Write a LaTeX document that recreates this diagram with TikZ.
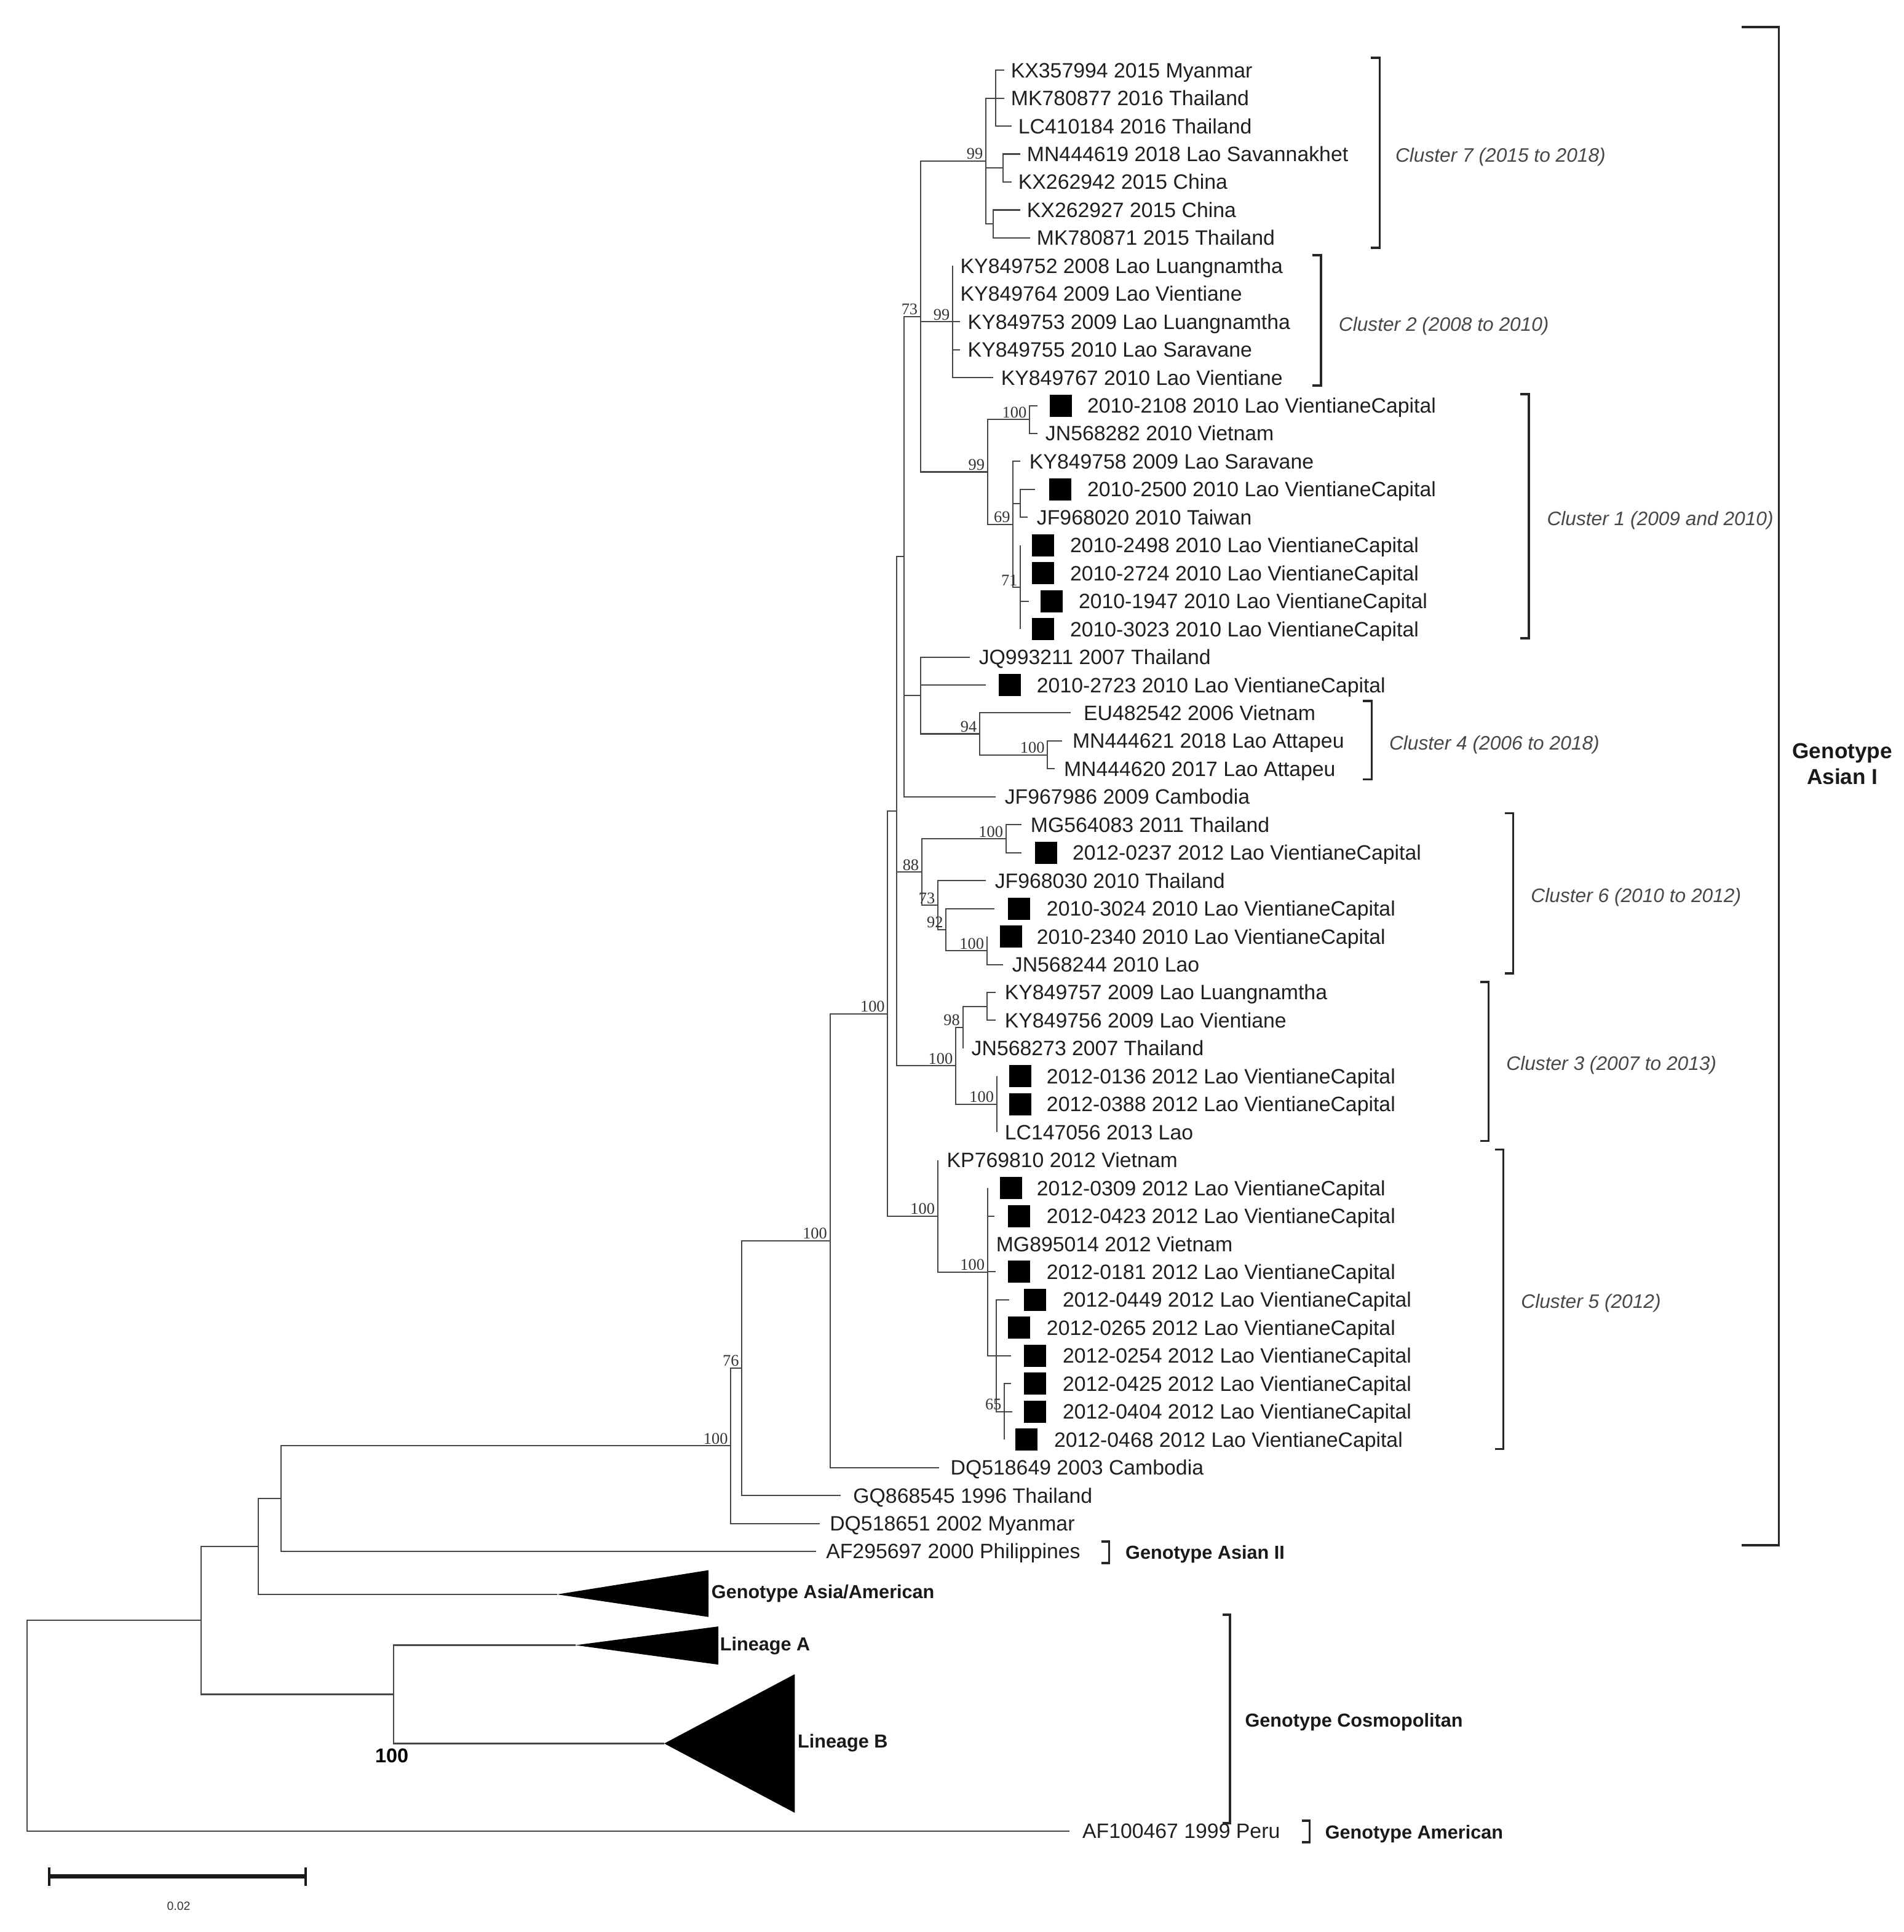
\documentclass[tikz,border=0pt]{standalone}
\usepackage{fontspec}
\setmainfont{Liberation Sans}
\newfontfamily\bsfont{Liberation Serif}
\newcommand\lf[5]{\coordinate (l#1) at (#2,#3); \node[lab] (t#1) at (#4,#3+6) {#5};}
\newcommand\bx[3]{\node[sq] (b#1) at (#2,#3) {};}
\newcommand\kids[2]{\foreach \c in {#2} {\draw[br] (#1) |- (\c);}}
\newcommand\bsl[4]{\node[bs] (bs#1) at (#2-2,#3-1) {#4};}
\newcommand\brak[4]{\draw[brk] (#1-#4,#2) -- (#1,#2) -- (#1,#3) -- (#1-#4,#3);}
\begin{document}
\begin{tikzpicture}[x=0.02cm,y=-0.02cm,
  br/.style={draw=black!72,line width=0.6pt},
  brk/.style={draw=black!85,line width=1pt},
  lab/.style={anchor=base west,inner sep=0pt,font=\fontsize{9.6}{11}\selectfont,text=black!88},
  sq/.style={fill=black,minimum size=0.36cm,inner sep=0pt},
  bs/.style={anchor=south east,inner sep=0pt,font=\bsfont\fontsize{7.5}{8}\selectfont,text=black!80},
  cl/.style={anchor=base west,inner sep=0pt,font=\itshape\fontsize{9}{10}\selectfont,text=black!72},
  gt/.style={anchor=base west,inner sep=0pt,font=\bfseries\fontsize{8.7}{10}\selectfont,text=black!90}]
\useasboundingbox (0,0) rectangle (1545,1568);
% ---------------- leaves ----------------
\lf{0}{815}{57.0}{820}{KX357994 2015 Myanmar}
\lf{1}{815}{79.7}{820}{MK780877 2016 Thailand}
\lf{2}{821}{102.4}{826}{LC410184 2016 Thailand}
\lf{3}{828}{125.0}{833}{MN444619 2018 Lao Savannakhet}
\lf{4}{821}{147.7}{826}{KX262942 2015 China}
\lf{5}{828}{170.4}{833}{KX262927 2015 China}
\lf{6}{836}{193.1}{841}{MK780871 2015 Thailand}
\lf{7}{773}{215.8}{779}{KY849752 2008 Lao Luangnamtha}
\lf{8}{773}{238.4}{779}{KY849764 2009 Lao Vientiane}
\lf{9}{779}{261.1}{785}{KY849753 2009 Lao Luangnamtha}
\lf{10}{779}{283.8}{785}{KY849755 2010 Lao Saravane}
\lf{11}{806}{306.5}{812}{KY849767 2010 Lao Vientiane}
\lf{12}{842}{329.2}{882}{2010-2108 2010 Lao VientianeCapital}
\lf{13}{842}{351.8}{848}{JN568282 2010 Vietnam}
\lf{14}{828}{374.5}{835}{KY849758 2009 Lao Saravane}
\lf{15}{840}{397.2}{882}{2010-2500 2010 Lao VientianeCapital}
\lf{16}{834}{419.9}{841}{JF968020 2010 Taiwan}
\lf{17}{828}{442.6}{868}{2010-2498 2010 Lao VientianeCapital}
\lf{18}{828}{465.2}{868}{2010-2724 2010 Lao VientianeCapital}
\lf{19}{835}{487.9}{875}{2010-1947 2010 Lao VientianeCapital}
\lf{20}{828}{510.6}{868}{2010-3023 2010 Lao VientianeCapital}
\lf{21}{787}{533.3}{794}{JQ993211 2007 Thailand}
\lf{22}{800}{556.0}{841}{2010-2723 2010 Lao VientianeCapital}
\lf{23}{869}{578.6}{879}{EU482542 2006 Vietnam}
\lf{24}{862}{601.3}{870}{MN444621 2018 Lao Attapeu}
\lf{25}{856}{624.0}{863}{MN444620 2017 Lao Attapeu}
\lf{26}{808}{646.7}{815}{JF967986 2009 Cambodia}
\lf{27}{829}{669.4}{836}{MG564083 2011 Thailand}
\lf{28}{829}{692.0}{870}{2012-0237 2012 Lao VientianeCapital}
\lf{29}{800}{714.7}{807}{JF968030 2010 Thailand}
\lf{30}{807}{737.4}{849}{2010-3024 2010 Lao VientianeCapital}
\lf{31}{800.8}{760.1}{841}{2010-2340 2010 Lao VientianeCapital}
\lf{32}{814}{782.8}{821}{JN568244 2010 Lao}
\lf{33}{808}{805.4}{815}{KY849757 2009 Lao Luangnamtha}
\lf{34}{808}{828.1}{815}{KY849756 2009 Lao Vientiane}
\lf{35}{781.3}{850.8}{788}{JN568273 2007 Thailand}
\lf{36}{808.8}{873.5}{849}{2012-0136 2012 Lao VientianeCapital}
\lf{37}{808.8}{896.2}{849}{2012-0388 2012 Lao VientianeCapital}
\lf{38}{808.8}{918.8}{815}{LC147056 2013 Lao}
\lf{39}{760.9}{941.5}{768}{KP769810 2012 Vietnam}
\lf{40}{801.3}{964.2}{841}{2012-0309 2012 Lao VientianeCapital}
\lf{41}{807}{986.9}{849}{2012-0423 2012 Lao VientianeCapital}
\lf{42}{801.3}{1009.6}{808}{MG895014 2012 Vietnam}
\lf{43}{808}{1032.2}{849}{2012-0181 2012 Lao VientianeCapital}
\lf{44}{819}{1054.9}{862}{2012-0449 2012 Lao VientianeCapital}
\lf{45}{808.3}{1077.6}{849}{2012-0265 2012 Lao VientianeCapital}
\lf{46}{820.5}{1100.3}{862}{2012-0254 2012 Lao VientianeCapital}
\lf{47}{820.5}{1123.0}{862}{2012-0425 2012 Lao VientianeCapital}
\lf{48}{821.5}{1145.6}{862}{2012-0404 2012 Lao VientianeCapital}
\lf{49}{815}{1168.3}{855}{2012-0468 2012 Lao VientianeCapital}
\lf{50}{762}{1191.0}{771}{DQ518649 2003 Cambodia}
\lf{51}{682}{1213.7}{692}{GQ868545 1996 Thailand}
\lf{52}{665}{1236.4}{673}{DQ518651 2002 Myanmar}
\lf{53}{662}{1259.0}{670}{AF295697 2000 Philippines}
\lf{54}{868}{1486}{878}{AF100467 1999 Peru}
% boxes
\bx{12}{861}{329.2} \bx{15}{860.5}{397.2}
\bx{17}{846.5}{442.6} \bx{18}{846.5}{465.2} \bx{19}{853.5}{487.9} \bx{20}{846.5}{510.6}
\bx{22}{819.5}{556.0} \bx{28}{849}{692.0} \bx{30}{827}{737.4} \bx{31}{820.5}{760.1}
\bx{36}{828}{873.5} \bx{37}{828}{896.2}
\bx{40}{820.5}{964.2} \bx{41}{827}{986.9} \bx{43}{827}{1032.2} \bx{44}{840}{1054.9}
\bx{45}{827}{1077.6} \bx{46}{840}{1100.3} \bx{47}{840}{1123.0} \bx{48}{840}{1145.6}
\bx{49}{833}{1168.3}
% ---------------- internal nodes ----------------
\coordinate (R) at (22,1400.5);
\coordinate (A) at (163,1315);
\coordinate (B) at (209.5,1255.1);
\coordinate (H) at (319.5,1375.1);
\coordinate (C) at (228,1216.2);
\coordinate (D) at (593,1173.4);
\coordinate (E) at (602,1110.3);
\coordinate (F) at (673.5,1006.9);
\coordinate (G) at (720.3,822.7);
\coordinate (H2) at (727.4,658.4);
\coordinate (I) at (733.6,451.8);
\coordinate (L) at (747,256.9);
\coordinate (C7) at (800,130.7);
\coordinate (a7) at (808,79.7);
\coordinate (b7) at (814,136.4);
\coordinate (c7) at (806,181.8);
\coordinate (C2) at (773,261.2);
\coordinate (C1) at (801.3,383);
\coordinate (c1a) at (835.4,340.5);
\coordinate (c1b) at (822,425.5);
\coordinate (s15) at (828,408.6);
\coordinate (N71) at (828,476.6);
\coordinate (JQ) at (747.2,564.5);
\coordinate (N94) at (795,595.6);
\coordinate (N100b) at (850,612.7);
\coordinate (N88) at (748,707.7);
\coordinate (N100c) at (816.3,680.7);
\coordinate (N73) at (761,734.6);
\coordinate (N92) at (767.7,754.4);
\coordinate (N100d) at (800.8,771.5);
\coordinate (N3) at (775.5,865);
\coordinate (N98) at (781.3,833.8);
\coordinate (sub98) at (800.8,816.8);
\coordinate (N100e) at (808.8,896.2);
\coordinate (K) at (760.9,986.9);
\coordinate (K2) at (801.3,1032.3);
\coordinate (K4) at (808.3,1100.3);
\coordinate (K5) at (815,1145.7);
% collapsed clades
\coordinate (tAA) at (452,1294);
\coordinate (tLA) at (467,1335.2);
\coordinate (tLB) at (539,1415);
\fill[black] (tAA) -- (575,1274.3) -- (575,1312.3) -- cycle;
\fill[black] (tLA) -- (583,1320) -- (583,1351) -- cycle;
\fill[black] (tLB) -- (645,1358.7) -- (645,1471.3) -- cycle;
% ---------------- branches ----------------
\kids{R}{A,l54}
\kids{A}{B,H}
\kids{B}{C,tAA}
\kids{H}{tLA,tLB}
\kids{C}{D,l53}
\kids{D}{E,l52}
\kids{E}{F,l51}
\kids{F}{G,l50}
\kids{G}{H2,K}
\kids{H2}{I,N88,N3}
\kids{I}{L,JQ,l26}
\kids{L}{C7,C2,C1}
\kids{C7}{a7,b7,c7}
\kids{a7}{l0,l1,l2}
\kids{b7}{l3,l4}
\kids{c7}{l5,l6}
\kids{C2}{l7,l8,l9,l10,l11}
\kids{C1}{c1a,c1b}
\kids{c1a}{l12,l13}
\kids{c1b}{l14,s15,N71}
\kids{s15}{l15,l16}
\kids{N71}{l17,l18,l19,l20}
\kids{JQ}{l21,l22,N94}
\kids{N94}{l23,N100b}
\kids{N100b}{l24,l25}
\kids{N88}{N100c,N73}
\kids{N100c}{l27,l28}
\kids{N73}{l29,N92}
\kids{N92}{l30,N100d}
\kids{N100d}{l31,l32}
\kids{N3}{N98,N100e}
\kids{N98}{sub98,l35}
\kids{sub98}{l33,l34}
\kids{N100e}{l36,l37,l38}
\kids{K}{l39,K2}
\kids{K2}{l40,l41,l42,l43,K4}
\kids{K4}{l44,l45,l46,K5}
\kids{K5}{l47,l48,l49}
% ---------------- bootstrap values ----------------
\bsl{C7}{800}{130.7}{99}
\bsl{L}{747}{256.9}{73}
\bsl{C2}{773}{261.2}{99}
\bsl{c1a}{835.4}{340.5}{100}
\bsl{C1}{801.3}{383}{99}
\bsl{c1b}{822}{425.5}{69}
\bsl{N71}{828}{476.6}{71}
\bsl{N94}{795}{595.6}{94}
\bsl{N100b}{850}{612.7}{100}
\bsl{N100c}{816.3}{680.7}{100}
\bsl{N88}{748}{707.7}{88}
\bsl{N73}{761}{734.6}{73}
\bsl{N92}{767.7}{754.4}{92}
\bsl{N100d}{800.8}{771.5}{100}
\bsl{G}{720.3}{822.7}{100}
\bsl{N98}{781.3}{833.8}{98}
\bsl{N3}{775.5}{865}{100}
\bsl{N100e}{808.8}{896.2}{100}
\bsl{K}{760.9}{986.9}{100}
\bsl{F}{673.5}{1006.9}{100}
\bsl{K2}{801.3}{1032.3}{100}
\bsl{E}{602}{1110.3}{76}
\bsl{K5}{815}{1145.7}{65}
\bsl{D}{593}{1173.4}{100}
\node[font=\bfseries\fontsize{9.2}{10}\selectfont,inner sep=0pt] (bsH) at (318,1425) {100};
% ---------------- clade labels ----------------
\node[gt] (gAA) at (577,1297.5) {Genotype Asia/American};
\node[gt] (gLA) at (584,1339.5) {Lineage A};
\node[gt] (gLB) at (647,1418.5) {Lineage B};
\node[gt] (gA2) at (913,1265.5) {Genotype Asian II};
\node[gt] (gCo) at (1010,1401.5) {Genotype Cosmopolitan};
\node[gt] (gAm) at (1075,1492.5) {Genotype American};
\node[font=\bfseries\fontsize{10}{12}\selectfont,align=center,inner sep=0pt,text=black!90] (gA1) at (1495,620) {Genotype\\Asian I};
\node[cl] (k7) at (1132,131.5) {Cluster 7 (2015 to 2018)};
\node[cl] (k2) at (1086,268.5) {Cluster 2 (2008 to 2010)};
\node[cl] (k1) at (1255,426.5) {Cluster 1 (2009 and 2010)};
\node[cl] (k4) at (1127,608.5) {Cluster 4 (2006 to 2018)};
\node[cl] (k6) at (1242,732.5) {Cluster 6 (2010 to 2012)};
\node[cl] (k3) at (1222,868.5) {Cluster 3 (2007 to 2013)};
\node[cl] (k5) at (1234,1061.5) {Cluster 5 (2012)};
% brackets
\brak{1119.5}{47}{201}{7}
\brak{1072}{207}{313}{7}
\brak{1240.5}{320}{518}{7}
\brak{1113}{569}{632.5}{7}
\brak{1228}{660}{790}{7}
\brak{1208}{797}{926}{7}
\brak{1220}{933}{1176}{7}
\brak{1443.5}{22}{1254}{30}
\brak{900}{1251}{1268.5}{6}
\brak{998}{1310.6}{1479.7}{6}
\brak{1062.7}{1477.6}{1495}{6}
% scale bar
\coordinate (sb1) at (40,1523);
\coordinate (sb2) at (248,1523);
\draw[line width=2pt,black!90] (sb1) -- (sb2);
\draw[line width=1.2pt,black!90] (40,1515.5) -- (40,1530.5) (248,1515.5) -- (248,1530.5);
\node[font=\fontsize{5.5}{6}\selectfont,inner sep=0pt,text=black!80] (sbl) at (145,1547) {0.02};
\end{tikzpicture}
\end{document}
